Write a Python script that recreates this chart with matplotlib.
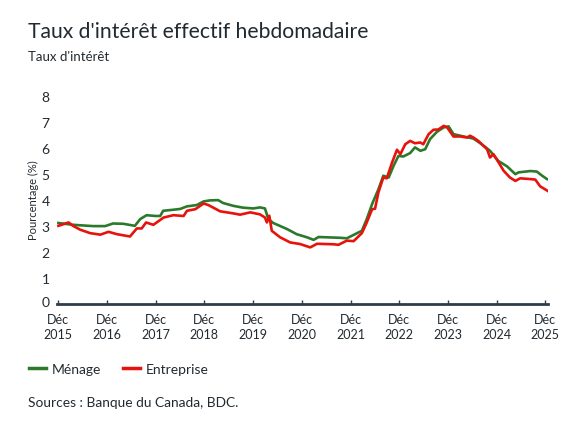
import matplotlib
matplotlib.use("Agg")
import matplotlib.pyplot as plt
from matplotlib.lines import Line2D
from matplotlib.transforms import ScaledTranslation

plt.rcParams['font.family'] = ['Lato', 'DejaVu Sans']

# decimal years, values
menage_x = [2015.92, 2016.22, 2016.63, 2016.88, 2017.04, 2017.25, 2017.49, 2017.60, 2017.73, 2017.91,
            2018.01, 2018.07, 2018.28, 2018.42, 2018.56, 2018.76, 2018.90, 2019.03, 2019.20, 2019.30,
            2019.51, 2019.71, 2019.92, 2020.06, 2020.16, 2020.23, 2020.33, 2020.61, 2020.81, 2021.02,
            2021.16, 2021.26, 2021.70, 2021.84, 2022.01, 2022.15, 2022.25, 2022.36, 2022.49, 2022.59,
            2022.70, 2022.80, 2022.90, 2023.00, 2023.14, 2023.24, 2023.35, 2023.45, 2023.55, 2023.69,
            2023.83, 2023.93, 2024.03, 2024.24, 2024.44, 2024.61, 2024.78, 2024.95, 2025.13, 2025.30,
            2025.37, 2025.61, 2025.74, 2025.85, 2025.95]
menage_y = [3.10, 3.03, 2.98, 2.98, 3.08, 3.07, 2.99, 3.25, 3.40, 3.37,
            3.37, 3.57, 3.61, 3.64, 3.74, 3.79, 3.93, 3.97, 3.98, 3.87,
            3.76, 3.69, 3.66, 3.70, 3.66, 3.25, 3.10, 2.87, 2.67, 2.55,
            2.45, 2.56, 2.53, 2.51, 2.67, 2.80, 3.25, 3.83, 4.40, 4.92,
            4.85, 5.30, 5.68, 5.66, 5.79, 6.01, 5.88, 5.94, 6.33, 6.61,
            6.78, 6.82, 6.52, 6.43, 6.35, 6.13, 5.88, 5.49, 5.28, 4.98,
            5.05, 5.10, 5.08, 4.92, 4.79]

entreprise_x = [2015.92, 2016.13, 2016.22, 2016.37, 2016.57, 2016.78, 2016.95, 2017.12, 2017.39, 2017.53,
                2017.63, 2017.72, 2017.87, 2018.08, 2018.28, 2018.49, 2018.56, 2018.73, 2018.90, 2019.00,
                2019.24, 2019.51, 2019.65, 2019.86, 2020.06, 2020.16, 2020.20, 2020.25, 2020.30, 2020.47,
                2020.68, 2020.88, 2021.09, 2021.23, 2021.57, 2021.67, 2021.84, 2021.98, 2022.15, 2022.25,
                2022.36, 2022.42, 2022.49, 2022.59, 2022.66, 2022.77, 2022.87, 2022.94, 2023.04, 2023.14,
                2023.24, 2023.35, 2023.41, 2023.52, 2023.62, 2023.72, 2023.83, 2023.90, 2024.03, 2024.17,
                2024.31, 2024.37, 2024.44, 2024.54, 2024.72, 2024.78, 2024.85, 2024.95, 2025.06, 2025.19,
                2025.30, 2025.40, 2025.61, 2025.71, 2025.81, 2025.96]
entreprise_y = [2.99, 3.12, 2.99, 2.84, 2.71, 2.65, 2.76, 2.67, 2.58, 2.89,
                2.89, 3.12, 3.03, 3.31, 3.40, 3.37, 3.57, 3.63, 3.85, 3.79,
                3.55, 3.47, 3.42, 3.51, 3.43, 3.31, 3.12, 3.38, 2.80, 2.55,
                2.35, 2.29, 2.16, 2.30, 2.28, 2.26, 2.42, 2.40, 2.71, 3.12,
                3.63, 3.65, 4.28, 4.85, 4.82, 5.43, 5.92, 5.75, 6.13, 6.26,
                6.17, 6.20, 6.13, 6.52, 6.69, 6.70, 6.84, 6.78, 6.43, 6.43,
                6.39, 6.46, 6.39, 6.26, 5.94, 5.62, 5.75, 5.45, 5.11, 4.85,
                4.72, 4.82, 4.79, 4.77, 4.51, 4.34]

tick_years = [2015, 2016, 2017, 2018, 2019, 2020, 2021, 2022, 2023, 2024, 2025]
tick_labels = ["Déc\n%d" % y for y in tick_years]

green = '#2b7a2b'
red = '#e8120c'
dark = '#222a30'

fig = plt.figure(figsize=(5.75, 4.31), dpi=100)
ax = fig.add_axes([0.0985, 0.2935, 0.8545, 0.4821])

ax.plot(menage_x, menage_y, color=green, lw=1.9, solid_joinstyle='round')
ax.plot(entreprise_x, entreprise_y, color=red, lw=1.9, solid_joinstyle='round')

ax.set_xlim(2015.884, 2025.97)
ax.set_ylim(0, 8)
ax.set_yticks(range(0, 9))
ax.set_xticks([y + 11 / 12 for y in tick_years])
ax.set_xticklabels(tick_labels, fontsize=9, color=dark, linespacing=1.3)
ax.tick_params(axis='y', length=0, pad=5, labelsize=10, labelcolor=dark)
ax.tick_params(axis='x', direction='in', length=3, width=1, color='#2f3d48', pad=7)

# the zero label sits a little above the axis line
zero = ax.get_yticklabels()[0]
zero.set_transform(zero.get_transform() + ScaledTranslation(0, 3 / 100, fig.dpi_scale_trans))

for s in ['top', 'right', 'left']:
    ax.spines[s].set_visible(False)
ax.spines['bottom'].set_color('#2f3d48')
ax.spines['bottom'].set_linewidth(2)

ax.set_ylabel('Pourcentage (%)', fontsize=8, color=dark, labelpad=2)

fig.text(0.049, 0.925, "Taux d'intérêt effectif hebdomadaire", fontsize=15.2, color=dark, va='center')
fig.text(0.049, 0.867, "Taux d'intérêt", fontsize=9.5, color=dark, va='center')

handles = [Line2D([0], [0], color=green, lw=2.5), Line2D([0], [0], color=red, lw=2.5)]
fig.legend(handles, ['Ménage', 'Entreprise'], loc='center left', bbox_to_anchor=(0.0504, 0.1415),
           ncol=2, frameon=False, fontsize=10, handlelength=1.25, handletextpad=0.36,
           columnspacing=1.6, labelcolor=dark, borderpad=0, borderaxespad=0)

fig.text(0.049, 0.065, "Sources : Banque du Canada, BDC.", fontsize=9.9, color=dark, va='center')

fig.savefig('out.png', dpi=100)
